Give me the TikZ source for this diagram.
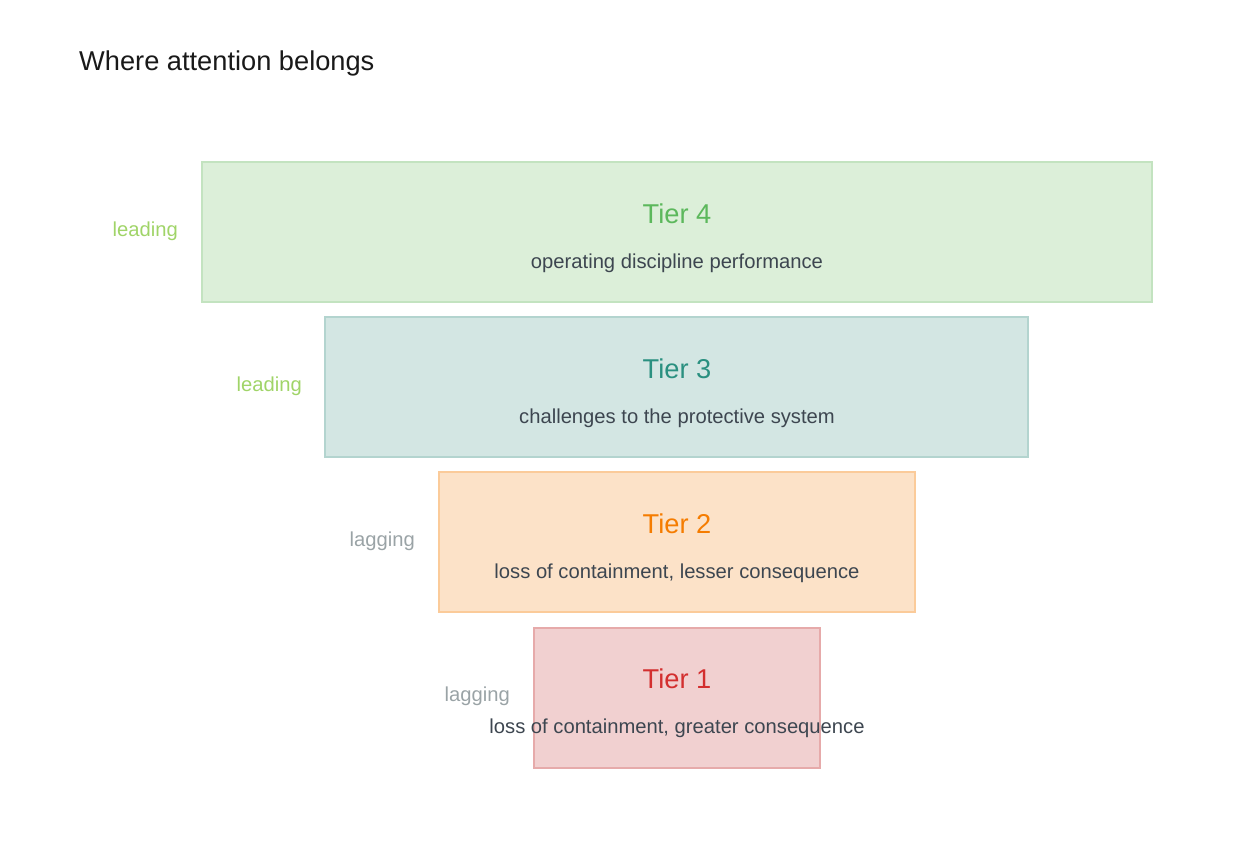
\documentclass[tikz,border=0pt]{standalone}
\usepackage{fontspec}
\setmainfont{Liberation Sans}
\usetikzlibrary{positioning}
\definecolor{fgreen}{HTML}{DCEFD9}\definecolor{dgreen}{HTML}{C3E3C0}\definecolor{tgreen}{HTML}{5CB85C}
\definecolor{fteal}{HTML}{D3E6E3}\definecolor{dteal}{HTML}{B3D4CF}\definecolor{tteal}{HTML}{2A9080}
\definecolor{forange}{HTML}{FCE2C8}\definecolor{dorange}{HTML}{FBCB9A}\definecolor{torange}{HTML}{F57C00}
\definecolor{fred}{HTML}{F1D0D0}\definecolor{dred}{HTML}{E6AAAA}\definecolor{tred}{HTML}{D32F2F}
\definecolor{body}{HTML}{3D4650}
\definecolor{lead}{HTML}{A0D468}
\definecolor{lag}{HTML}{9AA3A6}
\begin{document}
\begin{tikzpicture}[x=0.02cm, y=-0.02cm]
  \tikzstyle{tier}=[draw, line width=1.6pt, inner sep=0pt]
  \tikzstyle{tiername}=[font=\fontsize{15.5}{18}\selectfont]
  \tikzstyle{desc}=[font=\fontsize{11.5}{14}\selectfont, text=body]
  \tikzstyle{side}=[anchor=east, font=\fontsize{11.5}{14}\selectfont]

	\useasboundingbox (0,0) rectangle (1258,850);
	\node[anchor=west, font=\fontsize{15.5}{18}\selectfont, text=black!90] (title) at (73,63) {Where attention belongs};

	\draw[tier, draw=dgreen, fill=fgreen]   (202,162) rectangle (1152,302);
	\draw[tier, draw=dteal, fill=fteal]     (325,317) rectangle (1028,457);
	\draw[tier, draw=dorange, fill=forange] (439,472) rectangle (915,612);
	\draw[tier, draw=dred, fill=fred]       (534,628) rectangle (820,768);

	\node[tiername, text=tgreen]  (T4) at (677,214) {Tier 4};
	\node[desc] (D4) at (677,263) {operating discipline performance};
	\node[tiername, text=tteal]   (T3) at (677,369) {Tier 3};
	\node[desc] (D3) at (677,418) {challenges to the protective system};
	\node[tiername, text=torange] (T2) at (677,524) {Tier 2};
	\node[desc] (D2) at (677,573) {loss of containment, lesser consequence};
	\node[tiername, text=tred]    (T1) at (677,679) {Tier 1};
	\node[desc] (D1) at (677,728) {loss of containment, greater consequence};

	\node[side, text=lead] (S4) at (184,231) {leading};
	\node[side, text=lead] (S3) at (308,386) {leading};
	\node[side, text=lag]  (S2) at (421,541) {lagging};
	\node[side, text=lag]  (S1) at (516,696) {lagging};
\end{tikzpicture}
\end{document}
